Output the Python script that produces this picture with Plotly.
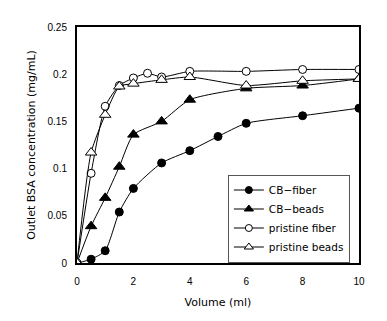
import plotly.graph_objects as go

cb_fiber_x = [0, 0.5, 1, 1.5, 2, 3, 4, 5, 6, 8, 10]
cb_fiber_y = [0, 0.004, 0.013, 0.054, 0.079, 0.106, 0.119, 0.134, 0.148, 0.156, 0.164]

cb_beads_x = [0, 0.5, 1, 1.5, 2, 3, 4, 6, 8, 10]
cb_beads_y = [0, 0.039, 0.069, 0.102, 0.136, 0.150, 0.173, 0.185, 0.188, 0.195]

pr_fiber_x = [0, 0.5, 1, 1.5, 2, 2.5, 3, 4, 6, 8, 10]
pr_fiber_y = [0, 0.095, 0.166, 0.188, 0.196, 0.201, 0.197, 0.203, 0.203, 0.205, 0.205]

pr_beads_x = [0, 0.5, 1, 1.5, 2, 3, 4, 6, 8, 10]
pr_beads_y = [0, 0.117, 0.157, 0.187, 0.190, 0.194, 0.197, 0.188, 0.193, 0.195]

series_names = ["CB\u2212fiber", "CB\u2212beads", "pristine fiber", "pristine beads"]

x_ticks = [0, 2, 4, 6, 8, 10]
y_ticks = [0, 0.05, 0.1, 0.15, 0.2, 0.25]
y_tick_labels = ["0", "0.05", "0.1", "0.15", "0.2", "0.25"]

FONT = "Liberation Sans, Arial, sans-serif"
LFONT = "DejaVu Sans, sans-serif"

fig = go.Figure()

def add(x, y, name, symbol, fill, size, lsize):
    fig.add_trace(go.Scatter(
        x=x, y=y, name=name, mode="lines+markers", showlegend=False,
        line=dict(color="black", width=1, shape="spline", smoothing=0.6),
        marker=dict(symbol=symbol, size=size, color=fill,
                    line=dict(color="black", width=1)),
    ))
    # legend entry with the smaller legend symbol
    fig.add_trace(go.Scatter(
        x=[None], y=[None], name=name, mode="lines+markers", showlegend=True,
        line=dict(color="black", width=1),
        marker=dict(symbol=symbol, size=lsize, color=fill,
                    line=dict(color="black", width=1)),
    ))

add(cb_fiber_x, cb_fiber_y, series_names[0], "circle", "black", 8, 7)
add(cb_beads_x, cb_beads_y, series_names[1], "triangle-up", "black", 10, 8)
add(pr_fiber_x, pr_fiber_y, series_names[2], "circle", "white", 8, 7)
add(pr_beads_x, pr_beads_y, series_names[3], "triangle-up", "white", 10, 8)

# page body has an 8px margin; compensate so the plot lands where the reference has it
fig.update_layout(
    width=379, height=313,
    margin=dict(l=69, r=28, t=19, b=58),
    paper_bgcolor="white", plot_bgcolor="white",
    font=dict(family=FONT, size=10, color="black"),
    showlegend=True,
    legend=dict(x=0.535, y=0.375, xanchor="left", yanchor="top",
                bgcolor="white", bordercolor="#555555", borderwidth=1,
                font=dict(size=10.5, family=LFONT), itemwidth=30,
                tracegroupgap=0),
)
fig.update_xaxes(
    range=[0, 10], tickvals=x_ticks, ticks="", showgrid=False, zeroline=False,
    showline=True, linecolor="black", linewidth=2, mirror=True,
    title=dict(text="Volume (ml)", font=dict(size=11, family=LFONT), standoff=12),
    ticklabelstandoff=8,
)
fig.update_yaxes(
    range=[0, 0.25], tickvals=y_ticks, ticktext=y_tick_labels, ticks="",
    showgrid=False, zeroline=False,
    showline=True, linecolor="black", linewidth=2, mirror=True,
    title=dict(text="Outlet BSA concentration (mg/mL)", font=dict(size=11, family=LFONT), standoff=10),
    ticklabelstandoff=6,
)

fig.write_html("out.html")
